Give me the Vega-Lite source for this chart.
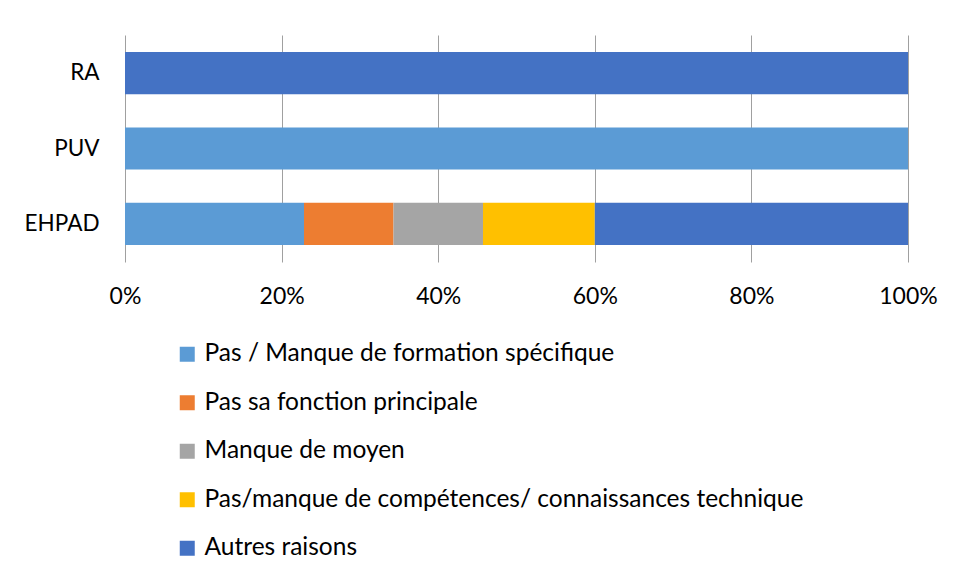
{
  "$schema": "https://vega.github.io/schema/vega-lite/v6.json",
  "autosize": "none",
  "width": 783,
  "height": 227,
  "padding": {"left": 125, "top": 35, "right": 48, "bottom": 317},
  "background": "white",
  "data": {
    "values": [
      {"etab": "RA", "raison": "Autres raisons", "ordre": 5, "part": 1.0},
      {"etab": "PUV", "raison": "Pas / Manque de formation spécifique", "ordre": 1, "part": 1.0},
      {"etab": "EHPAD", "raison": "Pas / Manque de formation spécifique", "ordre": 1, "part": 0.2286},
      {"etab": "EHPAD", "raison": "Pas sa fonction principale", "ordre": 2, "part": 0.1143},
      {"etab": "EHPAD", "raison": "Manque de moyen", "ordre": 3, "part": 0.1143},
      {"etab": "EHPAD", "raison": "Pas/manque de compétences/ connaissances technique", "ordre": 4, "part": 0.1428},
      {"etab": "EHPAD", "raison": "Autres raisons", "ordre": 5, "part": 0.4}
    ]
  },
  "mark": {"type": "bar"},
  "encoding": {
    "y": {
      "field": "etab",
      "type": "nominal",
      "sort": ["RA", "PUV", "EHPAD"],
      "scale": {"paddingInner": 0.44, "paddingOuter": 0.225},
      "axis": {
        "title": null,
        "ticks": false,
        "domain": false,
        "labelFont": "Lato",
        "labelFontSize": 22.5,
        "labelColor": "#000000",
        "labelPadding": 26
      }
    },
    "x": {
      "field": "part",
      "type": "quantitative",
      "stack": "zero",
      "scale": {"domain": [0, 1], "nice": false},
      "axis": {
        "title": null,
        "format": ".0%",
        "values": [0, 0.2, 0.4, 0.6, 0.8, 1],
        "ticks": false,
        "domain": false,
        "grid": true,
        "gridColor": "#A0A0A0",
        "gridWidth": 1,
        "labelFont": "Lato",
        "labelFontSize": 23,
        "labelColor": "#000000",
        "labelPadding": 23,
        "labelFlush": false
      }
    },
    "color": {
      "field": "raison",
      "type": "nominal",
      "scale": {
        "domain": [
          "Pas / Manque de formation spécifique",
          "Pas sa fonction principale",
          "Manque de moyen",
          "Pas/manque de compétences/ connaissances technique",
          "Autres raisons"
        ],
        "range": ["#5B9BD5", "#ED7D31", "#A5A5A5", "#FFC000", "#4472C4"]
      },
      "legend": {
        "title": null,
        "orient": "none",
        "legendX": 50,
        "legendY": 307,
        "direction": "vertical",
        "symbolType": "square",
        "symbolSize": 225,
        "symbolStrokeWidth": 0,
        "symbolOpacity": 1,
        "labelFont": "Lato",
        "labelFontSize": 24.5,
        "labelColor": "#000000",
        "labelOffset": 5,
        "rowPadding": 23.5,
        "labelLimit": 800
      }
    },
    "order": {"field": "ordre", "type": "quantitative"}
  },
  "config": {"view": {"stroke": null}}
}
